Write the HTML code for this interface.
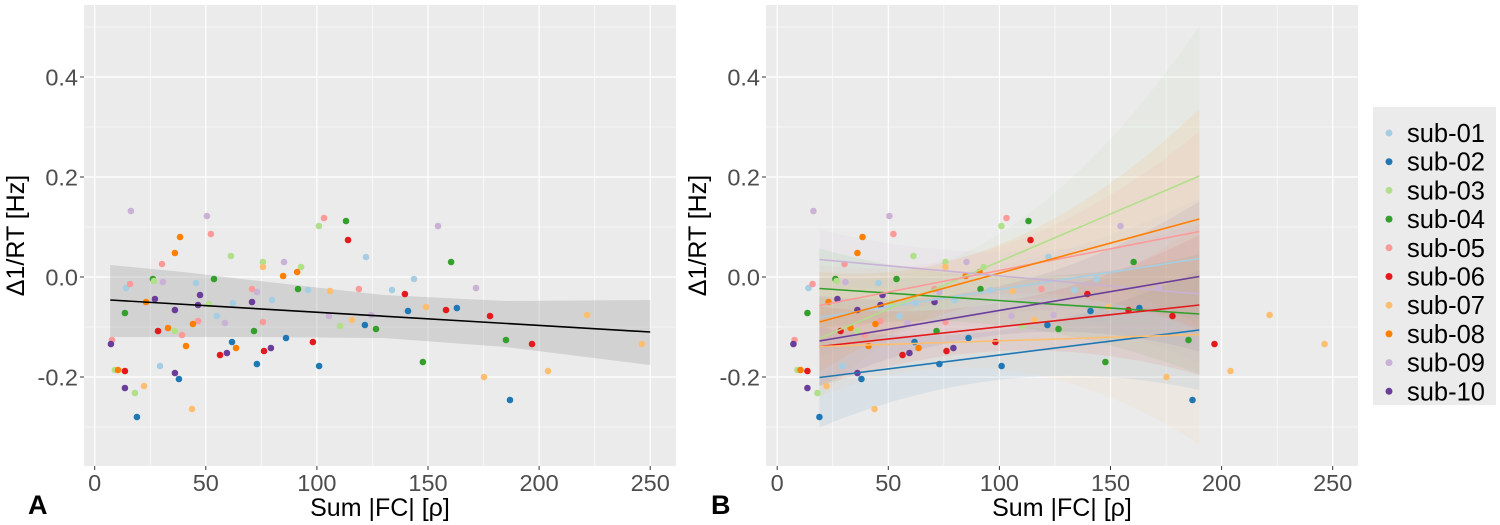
<!DOCTYPE html>
<html><head><meta charset="utf-8"><style>
html,body{margin:0;padding:0;background:#fff;}
svg{display:block;font-family:"Liberation Sans",sans-serif;}
</style></head><body>
<svg id="chart" width="1500" height="525" viewBox="0 0 1500 525" xmlns="http://www.w3.org/2000/svg"></svg>
<script>
const subjects=["sub-01","sub-02","sub-03","sub-04","sub-05","sub-06","sub-07","sub-08","sub-09","sub-10"];
const colors=["#A6CEE3","#1F78B4","#B2DF8A","#33A02C","#FB9A99","#E31A1C","#FDBF6F","#FF7F00","#CAB2D6","#6A3D9A"];
const ptSubj=[8,8,4,7,7,4,2,0,4,3,2,8,0,3,9,7,9,9,2,3,9,0,8,4,7,5,7,2,4,4,9,7,1,7,5,9,0,2,7,5,9,1,9,6,2,6,1,
4,3,2,5,0,2,8,6,2,7,7,3,0,4,8,6,4,9,0,0,8,6,8,1,3,2,4,3,1,5,5,9,1,1,
8,3,0,0,5,8,1,6,5,1,5,6,3,5,3,6,6,1,6];
const ptX=[16.3,50.5,52.3,38.4,36.1,30.3,61.3,14.1,15.9,26.2,26.7,30.7,45.6,53.7,27.1,23.1,47.4,46.5,51.4,13.6,36.1,55.0,58.6,46.5,44.2,28.5,33.0,36.1,39.3,7.8,7.3,41.1,61.8,63.6,56.4,59.5,29.4,9.1,10.5,13.6,36.1,37.9,13.6,22.2,18.1,43.8,19.0,
103.2,113.1,100.9,114.0,122.1,75.7,85.2,75.7,92.9,91.1,84.8,91.5,96.0,70.8,73.0,105.9,118.9,70.8,79.8,62.2,105.4,115.8,124.4,121.6,126.6,110.4,75.7,71.7,86.1,98.2,76.2,79.3,73.0,101.0,
154.5,160.4,143.7,133.8,139.6,171.6,141.0,149.1,158.1,163.0,177.9,221.6,185.1,196.8,147.7,175.2,204.0,186.9,246.3];
const ptY=[0.132,0.122,0.086,0.080,0.048,0.026,0.042,-0.022,-0.014,-0.004,-0.008,-0.010,-0.012,-0.004,-0.044,-0.050,-0.036,-0.056,-0.054,-0.072,-0.066,-0.078,-0.092,-0.088,-0.094,-0.108,-0.102,-0.108,-0.116,-0.126,-0.134,-0.138,-0.130,-0.142,-0.156,-0.152,-0.178,-0.186,-0.186,-0.188,-0.192,-0.204,-0.222,-0.218,-0.232,-0.264,-0.280,
0.118,0.112,0.102,0.074,0.040,0.030,0.030,0.020,0.020,0.010,0.002,-0.024,-0.026,-0.024,-0.030,-0.028,-0.024,-0.050,-0.046,-0.052,-0.078,-0.086,-0.076,-0.096,-0.104,-0.098,-0.090,-0.108,-0.122,-0.130,-0.148,-0.142,-0.174,-0.178,
0.102,0.030,-0.004,-0.026,-0.034,-0.022,-0.068,-0.060,-0.066,-0.062,-0.078,-0.076,-0.126,-0.134,-0.170,-0.200,-0.188,-0.246,-0.134];
// panel A overall fit + CI
const fitA=[[7,-0.046],[250,-0.110]];
const bandX=[7,40,70,130,185,250];
const bandUp=[0.024,0.010,-0.006,-0.036,-0.048,-0.046];
const bandLo=[-0.120,-0.120,-0.120,-0.122,-0.140,-0.176];
// panel B per-subject fits
const subFitX=[19,190];
const subFitY0=[-0.081,-0.201,-0.123,-0.023,-0.057,-0.139,-0.139,-0.090,0.035,-0.128];
const subFitY1=[0.037,-0.106,0.202,-0.074,0.091,-0.056,-0.115,0.116,-0.034,0.001];
const subHalfL=[0.08,0.10,0.12,0.08,0.08,0.08,0.10,0.10,0.06,0.09];
const subHalfM=[0.05,0.05,0.06,0.05,0.05,0.05,0.06,0.06,0.05,0.05];
const subHalfR=[0.12,0.12,0.30,0.12,0.20,0.14,0.22,0.22,0.14,0.15];
const xTicks=[0,50,100,150,200,250];
const yTicks=[0.4,0.2,0.0,-0.2];
const yTickLabels=["0.4","0.2","0.0","-0.2"];

const NS="http://www.w3.org/2000/svg";
const svg=document.getElementById('chart');
function mk(tag,attrs,parent){const e=document.createElementNS(NS,tag);for(const k in attrs)e.setAttribute(k,attrs[k]);(parent||svg).appendChild(e);return e;}
const PY0=5,PY1=466;
function sy(v){return 277-500*v;}
function makeSx(x0){return v=>x0+2.222*v;}
const panels=[{left:84,right:676,x0:94.7,label:"A",lx:28},{left:766,right:1358,x0:777.2,label:"B",lx:711}];

panels.forEach((P,pi)=>{
  const sx=makeSx(P.x0);
  const g=mk('g',{});
  
  
  const bg=mk('rect',{x:P.left,y:PY0,width:P.right-P.left,height:PY1-PY0,fill:'#EBEBEB'},g);
  
  
  [25,75,125,175,225].forEach(v=>{const l=mk('line',{x1:sx(v),x2:sx(v),y1:PY0,y2:PY1,stroke:'#fff','stroke-width':0.6},g);});
  [0.5,0.3,0.1,-0.1,-0.3].forEach(v=>{const l=mk('line',{x1:P.left,x2:P.right,y1:sy(v),y2:sy(v),stroke:'#fff','stroke-width':0.6},g);});
  xTicks.forEach(v=>{const l=mk('line',{x1:sx(v),x2:sx(v),y1:PY0,y2:PY1,stroke:'#fff','stroke-width':1.2},g);
    const t=mk('line',{x1:sx(v),x2:sx(v),y1:PY1,y2:PY1+4,stroke:'#333','stroke-width':1},g);
    const tx=mk('text',{x:sx(v),y:PY1+25,'font-size':23.5,fill:'#4D4D4D','text-anchor':'middle'},g);tx.textContent=String(v);});
  yTicks.forEach((v,i)=>{const l=mk('line',{x1:P.left,x2:P.right,y1:sy(v),y2:sy(v),stroke:'#fff','stroke-width':1.2},g);
    const t=mk('line',{x1:P.left-4,x2:P.left,y1:sy(v),y2:sy(v),stroke:'#333','stroke-width':1},g);
    const tx=mk('text',{x:P.left-6,y:sy(v)+8.5,'font-size':23.5,fill:'#4D4D4D','text-anchor':'end'},g);tx.textContent=yTickLabels[i];});
  if(pi===0){
    let d='M';bandX.forEach((x,i)=>{d+=(i?' L':'')+sx(x)+','+sy(bandUp[i]);});
    for(let i=bandX.length-1;i>=0;i--)d+=' L'+sx(bandX[i])+','+sy(bandLo[i]);
    const b=mk('path',{d:d+'Z',fill:'#999','fill-opacity':0.3},g);
  } else {
    subjects.forEach((s,k)=>{
      const xa=subFitX[0],xb=subFitX[1],xm=(xa+xb)/2;
      const hw=x=>{const L0=(x-xm)*(x-xb)/((xa-xm)*(xa-xb)),L1=(x-xa)*(x-xb)/((xm-xa)*(xm-xb)),L2=(x-xa)*(x-xm)/((xb-xa)*(xb-xm));return subHalfL[k]*L0+subHalfM[k]*L1+subHalfR[k]*L2;};
      const fy=x=>subFitY0[k]+(subFitY1[k]-subFitY0[k])*(x-xa)/(xb-xa);
      let up=[],lo=[];
      for(let i=0;i<=20;i++){const x=xa+(xb-xa)*i/20;up.push(sx(x)+','+sy(Math.min(0.54,fy(x)+hw(x))));lo.unshift(sx(x)+','+sy(Math.max(-0.378,fy(x)-hw(x))));}
      const b=mk('path',{d:'M'+up.join(' L')+' L'+lo.join(' L')+'Z',fill:colors[k],'fill-opacity':0.08},g);
      
      
    });
  }
  ptX.forEach((x,i)=>{const c=mk('circle',{cx:sx(x),cy:sy(ptY[i]),r:3.3,fill:colors[ptSubj[i]]},g);
    
    });
  if(pi===0){
    const l=mk('line',{x1:sx(fitA[0][0]),y1:sy(fitA[0][1]),x2:sx(fitA[1][0]),y2:sy(fitA[1][1]),stroke:'#000','stroke-width':1.6},g);
    
  } else {
    subjects.forEach((s,k)=>{const l=mk('line',{x1:sx(subFitX[0]),y1:sy(subFitY0[k]),x2:sx(subFitX[1]),y2:sy(subFitY1[k]),stroke:colors[k],'stroke-width':1.6},g);
      });
  }
  const xt=mk('text',{x:(P.left+P.right)/2,y:516,'font-size':25,fill:'#000','text-anchor':'middle'},g);xt.textContent='Sum |FC| [ρ]';
  
  const yx=P.left-60,yy=(PY0+PY1)/2;
  const yt=mk('text',{x:yx,y:yy,'font-size':25,fill:'#000','text-anchor':'middle',transform:'rotate(-90 '+yx+' '+yy+')'},g);yt.textContent='Δ1/RT [Hz]';
  
  const pl=mk('text',{x:P.lx,y:514,'font-size':27,'font-weight':'bold',fill:'#000'},g);pl.textContent=P.label;
  
});
const lg=mk('g',{});


const lb=mk('rect',{x:1373,y:107,width:123,height:298,fill:'#EBEBEB'},lg);


subjects.forEach((s,k)=>{const y=133+k*28.7;
  const c=mk('circle',{cx:1389,cy:y,r:3.5,fill:colors[k]},lg);
  
  const t=mk('text',{x:1407,y:y+9,'font-size':25.5,fill:'#000'},lg);t.textContent=s;
  });
</script>
</body></html>
